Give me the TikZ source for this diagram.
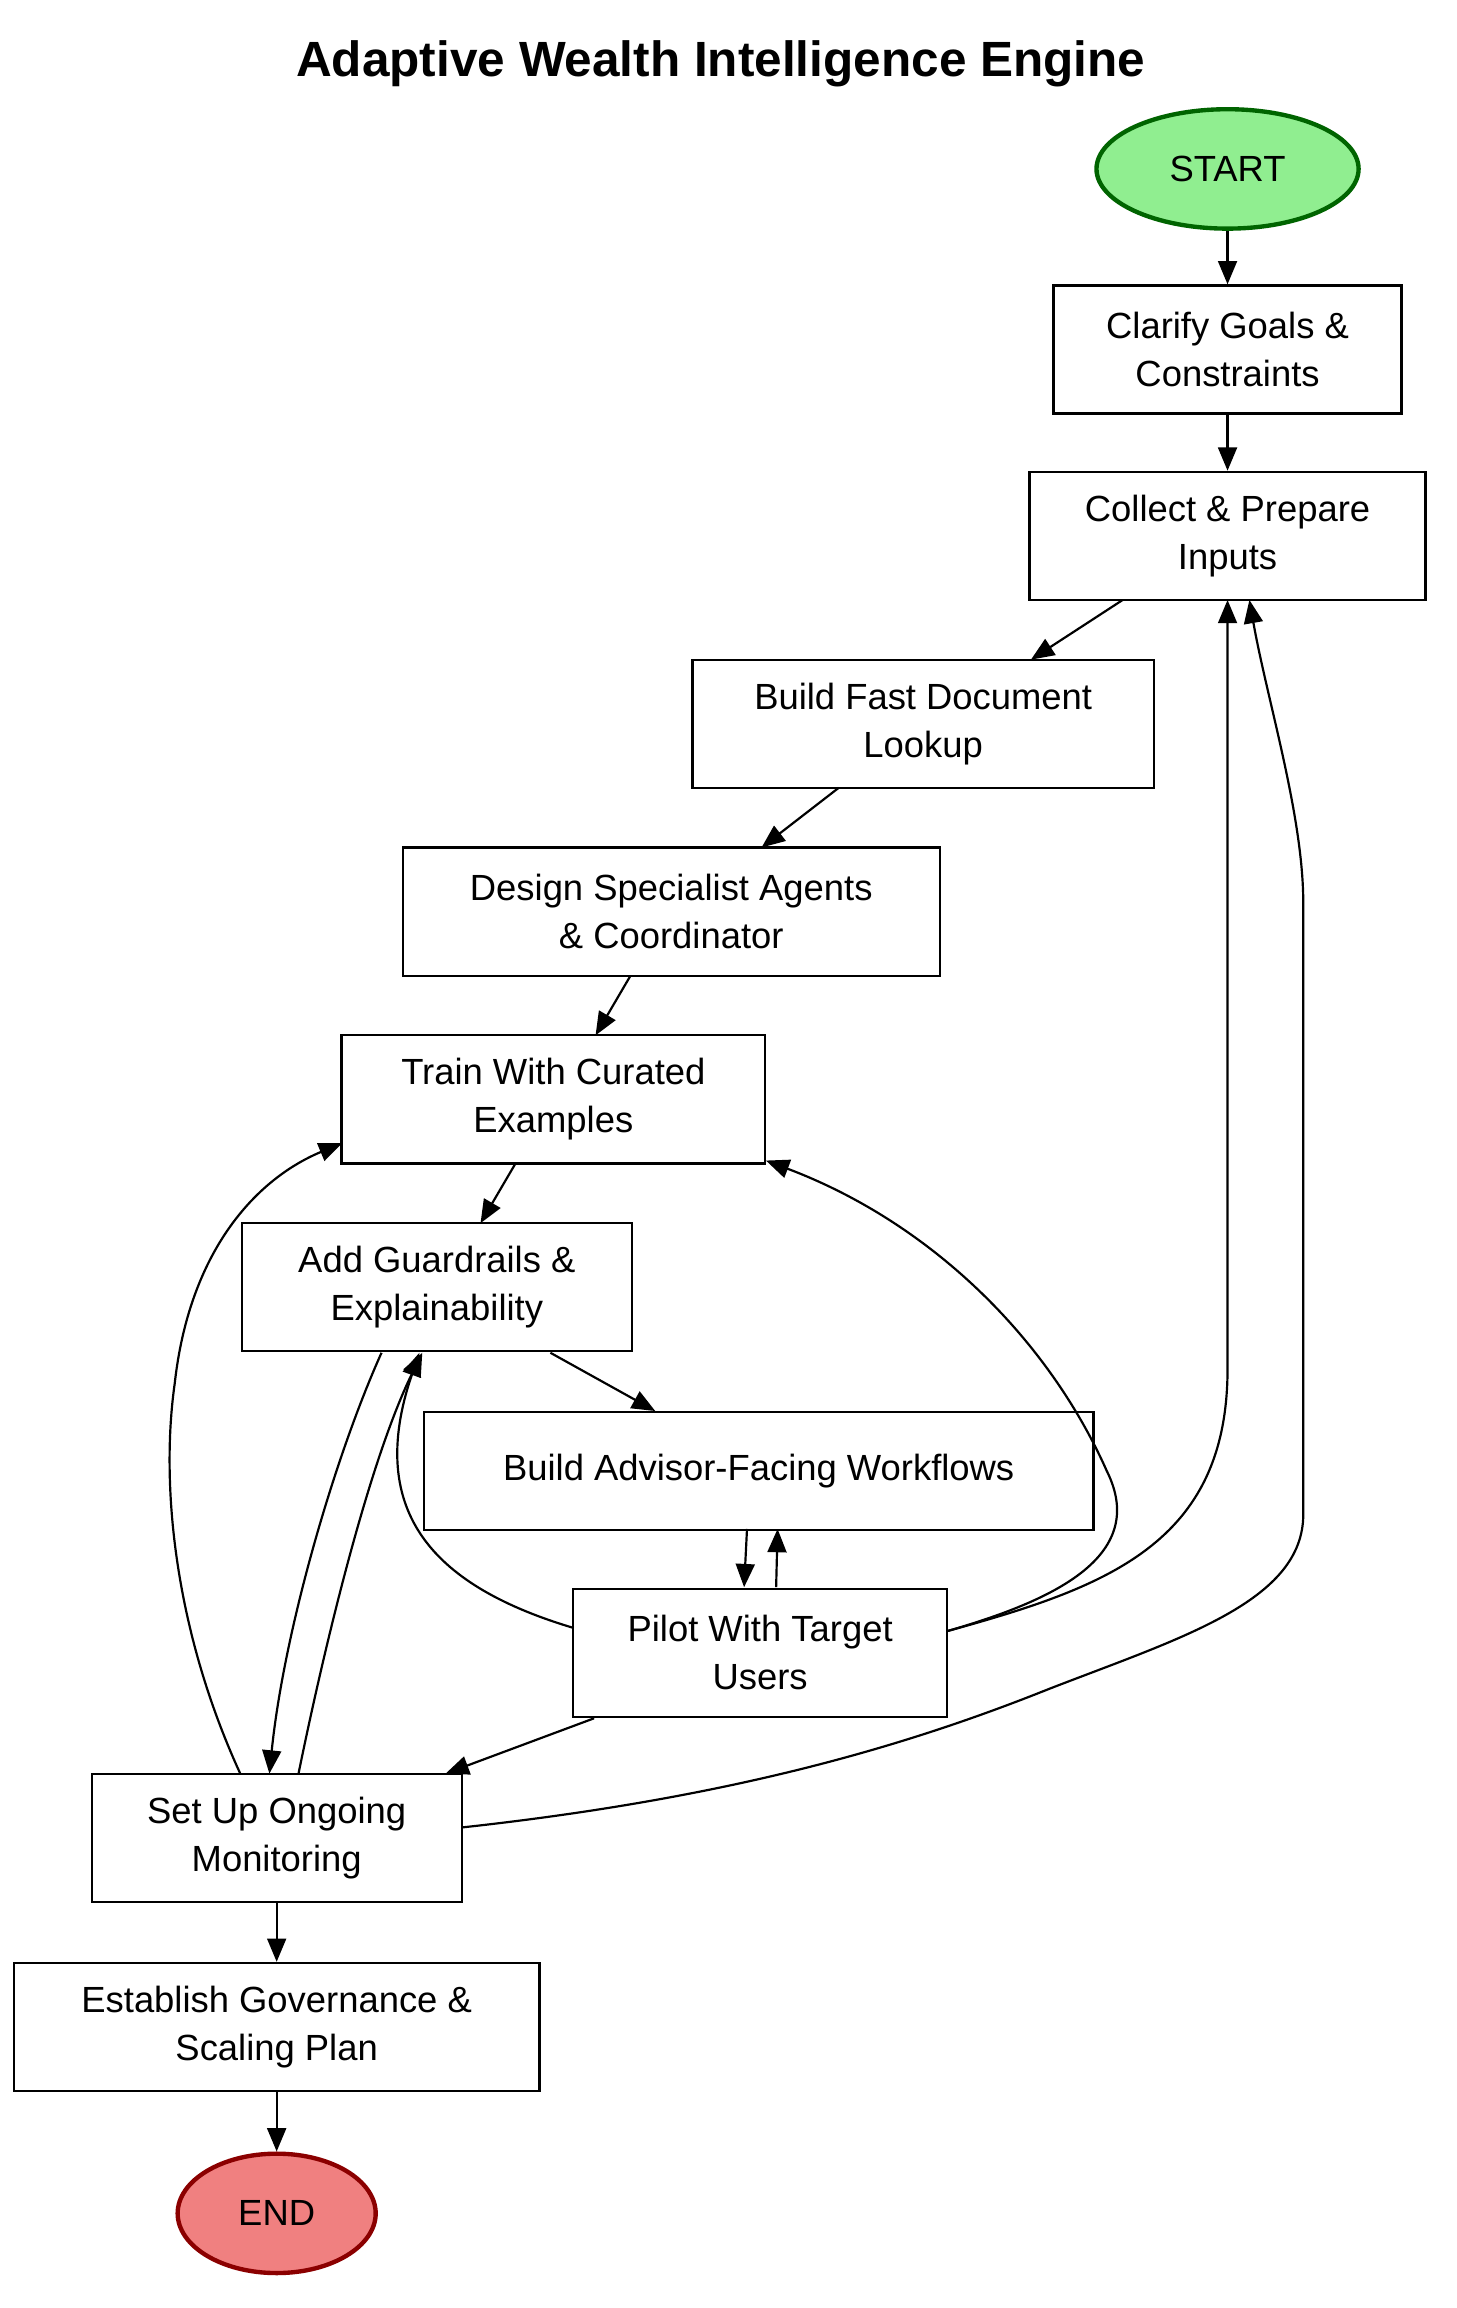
\documentclass[tikz,border=0pt]{standalone}
\usepackage{fontspec}
\setmainfont{Liberation Sans}
\usetikzlibrary{shapes.geometric,arrows.meta}
\begin{document}
\begin{tikzpicture}[x=1pt,y=-1pt,
  box/.style={draw,line width=1.5pt,rectangle,minimum height=88pt,align=center,font=\fontsize{25}{33}\selectfont,inner sep=2pt},
  term/.style={ellipse,line width=3pt,minimum height=82pt,font=\fontsize{25}{30}\selectfont},
  arr/.style={-{Triangle[length=16pt,width=13pt]},line width=1.5pt}]
\useasboundingbox (0,0) rectangle (1000,1585);
\node[font=\bfseries\fontsize{34}{40}\selectfont] (title) at (495,44) {Adaptive Wealth Intelligence Engine};
\node[term,draw={rgb,255:red,0;green,100;blue,0},fill={rgb,255:red,144;green,238;blue,144},minimum width=180pt] (start) at (843,116) {START};
\node[box,minimum width=239pt] (clar) at (843,240) {Clarify Goals \&\\Constraints};
\node[box,minimum width=272pt] (coll) at (843,368) {Collect \& Prepare\\Inputs};
\node[box,minimum width=317pt] (fast) at (634,497) {Build Fast Document\\Lookup};
\node[box,minimum width=369pt] (des) at (461,626) {Design Specialist Agents\\\& Coordinator};
\node[box,minimum width=291pt] (train) at (380,755) {Train With Curated\\Examples};
\node[box,minimum width=268pt] (add) at (300,884) {Add Guardrails \&\\Explainability};
\node[box,minimum width=460pt,minimum height=81pt] (adv) at (521,1010) {Build Advisor-Facing Workflows};
\node[box,minimum width=257pt] (pil) at (522,1135) {Pilot With Target\\Users};
\node[box,minimum width=254pt] (set) at (190,1262) {Set Up Ongoing\\Monitoring};
\node[box,minimum width=361pt] (est) at (190,1392) {Establish Governance \&\\Scaling Plan};
\node[term,draw={rgb,255:red,139;green,0;blue,0},fill={rgb,255:red,240;green,128;blue,128},minimum width=136pt] (end) at (190,1520) {END};
\draw[arr] (start) -- (clar);
\draw[arr] (clar) -- (coll);
\draw[arr] (771,412) -- (708,453);
\draw[arr] (576,541) -- (523,582);
\draw[arr] (433,670) -- (409,711);
\draw[arr] (354,799) -- (330,840);
\draw[arr] (378,929) -- (450,969);
\draw[arr] (513,1050) -- (511,1090);
\draw[arr] (533,1090) -- (534,1050);
\draw[arr] (408,1180) -- (306,1218);
\draw[arr] (394,1118) .. controls (300,1090) and (250,1040) .. (288,929);
\draw[arr] (651,1120) .. controls (720,1100) and (790,1070) .. (760,1010) .. controls (720,920) and (640,840) .. (526,797);
\draw[arr] (651,1120) .. controls (760,1090) and (843,1060) .. (843,940) -- (843,412);
\draw[arr] (317,1255) .. controls (500,1235) and (620,1200) .. (720,1160) .. controls (810,1125) and (895,1100) .. (895,1040) -- (895,620) .. controls (895,560) and (870,480) .. (858,412);
\draw[arr] (165,1218) .. controls (120,1120) and (110,1020) .. (120,950) .. controls (130,860) and (175,810) .. (235,785);
\draw[arr] (262,929) .. controls (230,1000) and (195,1120) .. (185,1218);
\draw[arr] (205,1218) .. controls (225,1120) and (255,1000) .. (290,929);
\draw[arr] (set) -- (est);
\draw[arr] (est) -- (end);
\end{tikzpicture}
\end{document}
